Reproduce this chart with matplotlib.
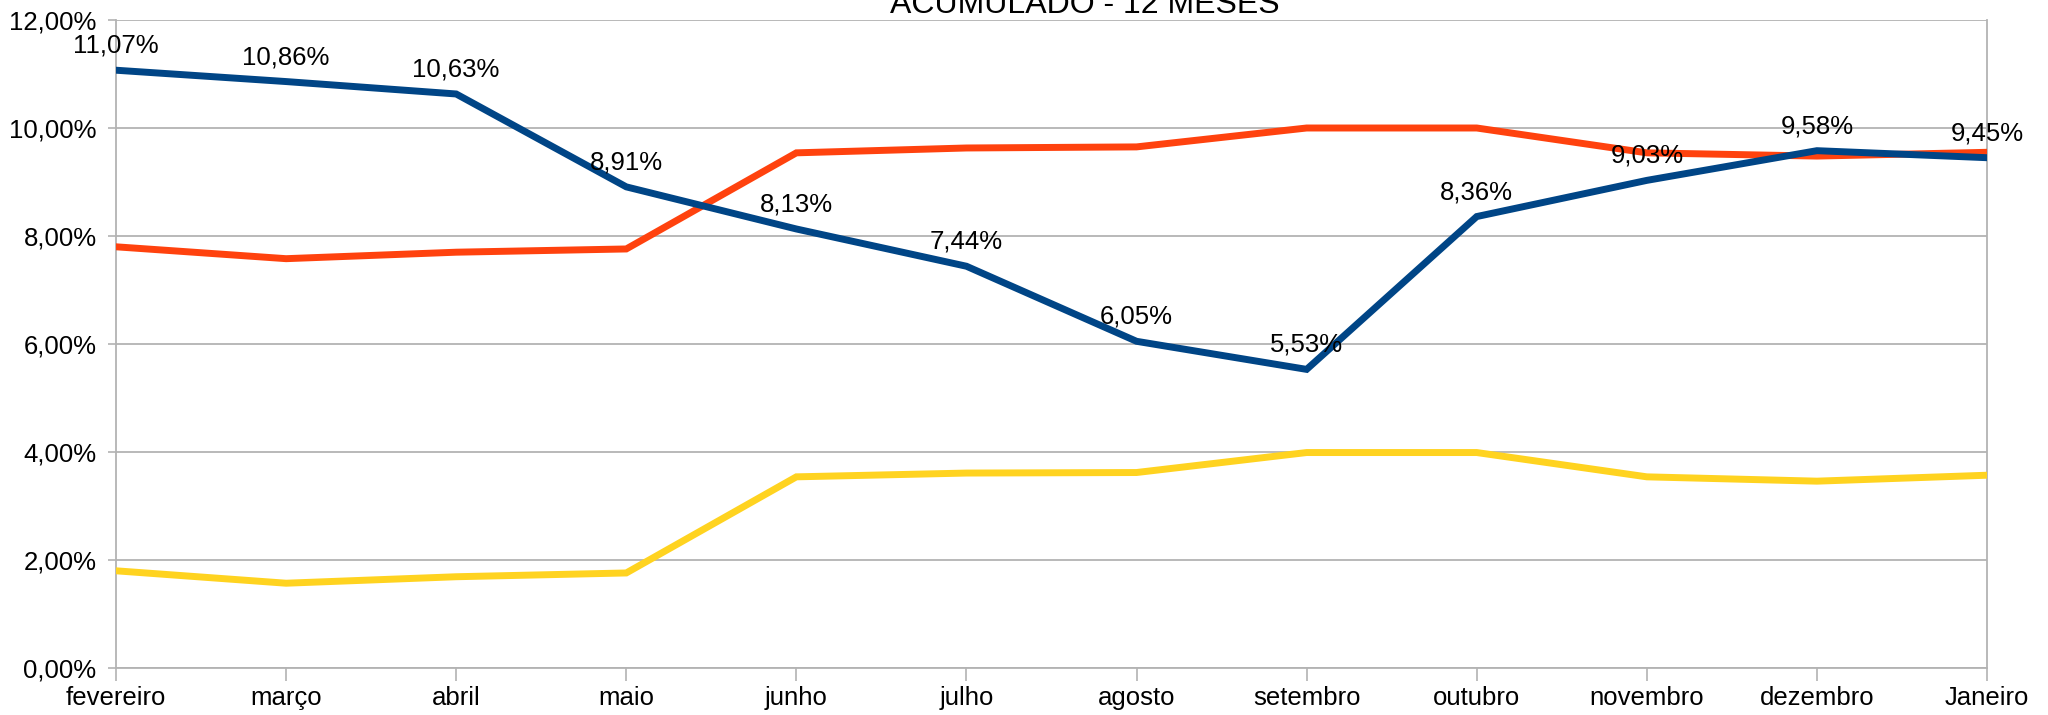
import matplotlib.pyplot as plt
import numpy as np

plt.rcParams['font.family'] = ['Liberation Sans', 'DejaVu Sans']

meses = ['fevereiro', 'março', 'abril', 'maio', 'junho', 'julho', 'agosto',
         'setembro', 'outubro', 'novembro', 'dezembro', 'Janeiro']

# acumulado 12 meses (%)
azul = [11.07, 10.86, 10.63, 8.91, 8.13, 7.44, 6.05, 5.53, 8.36, 9.03, 9.58, 9.45]
laranja = [7.80, 7.58, 7.70, 7.76, 9.54, 9.63, 9.65, 10.00, 10.00, 9.54, 9.48, 9.55]
amarelo = [1.80, 1.57, 1.69, 1.76, 3.54, 3.61, 3.62, 3.99, 3.99, 3.54, 3.46, 3.57]

yticks = [0, 2, 4, 6, 8, 10, 12]

fig = plt.figure(figsize=(20.48, 7.15), dpi=100)
ax = fig.add_axes([116 / 2048, 1 - 668 / 715, (1987 - 116) / 2048, (668 - 20) / 715])

x = np.arange(len(meses))
ax.plot(x, amarelo, color='#ffd320', lw=5, solid_joinstyle='miter', zorder=3)
ax.plot(x, laranja, color='#ff420e', lw=5, solid_joinstyle='miter', zorder=4)
ax.plot(x, azul, color='#004586', lw=5, solid_joinstyle='miter', zorder=5)

for xi, v in zip(x, azul):
    ax.annotate(f'{v:.2f}%'.replace('.', ','), (xi, v), xytext=(0, 9),
                textcoords='offset points', ha='center', va='bottom',
                fontsize=18.5, color='#000000', zorder=6, annotation_clip=False)

ax.set_xlim(0, len(meses) - 1)
ax.set_ylim(0, 12)
ax.set_xticks(x)
ax.set_xticklabels(meses, fontsize=18.5)
ax.set_yticks(yticks)
ax.set_yticklabels([f'{t:.2f}%'.replace('.', ',') for t in yticks], fontsize=18.5)

ax.grid(axis='y', color='#b3b3b3', lw=1.3)
ax.set_axisbelow(True)
for s in ['left', 'right', 'bottom']:
    ax.spines[s].set_color('#b3b3b3')
    ax.spines[s].set_linewidth(1.3)
ax.spines['top'].set_visible(False)

ax.tick_params(axis='x', length=9, width=1.2, color='#b3b3b3', pad=4)
ax.tick_params(axis='y', length=6, width=1.2, color='#b3b3b3', pad=8)

fig.text(1085 / 2048, 1 - 13 / 715, 'ACUMULADO - 12 MESES', ha='center',
         va='baseline', fontsize=23)

fig.savefig('out.png', dpi=100, facecolor='white')
